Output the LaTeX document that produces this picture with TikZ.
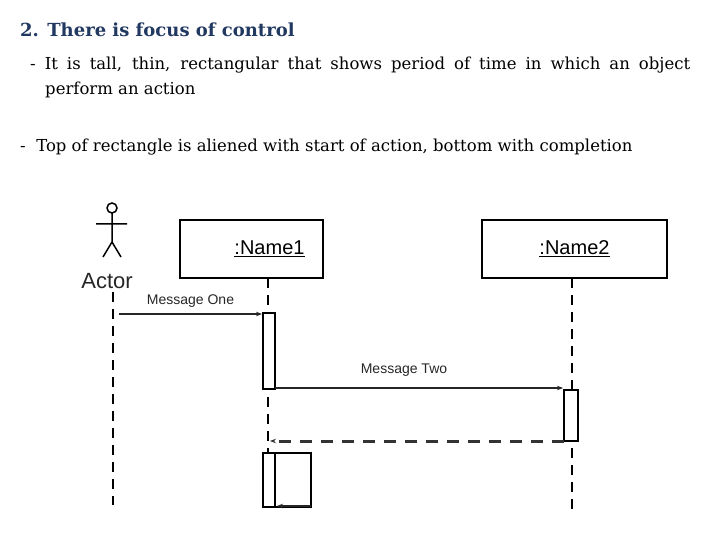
\documentclass[tikz,border=0pt]{standalone}
\usepackage{fontspec}
\setmainfont{DejaVu Serif}
\newfontfamily\diagfont{Liberation Sans}
\usetikzlibrary{arrows.meta}
\definecolor{titleblue}{RGB}{33,56,96}
\tikzset{
  lifeline/.style={line width=1.5pt,dash pattern=on 10pt off 7pt},
  objbox/.style={draw,line width=1.5pt,minimum width=#1,minimum height=58pt,inner sep=0pt,font=\diagfont\fontsize{20}{20}\selectfont},
  activation/.style={draw,line width=1.5pt,fill=white},
  msg/.style={line width=1.5pt,gray!30!black,-{Stealth[length=6pt]}},
  msglabel/.style={font=\diagfont\fontsize{14}{14}\selectfont,gray!30!black},
  bodytext/.style={anchor=west,inner sep=0pt,font=\fontsize{16.5}{16.5}\selectfont}
}
\begin{document}
\begin{tikzpicture}[x=1pt,y=-1pt]
        \useasboundingbox (0,0) rectangle (720,540);
        % Texte
        \node[anchor=west,inner sep=0pt,font=\bfseries\fontsize{18}{18}\selectfont,text=titleblue] (title) at (20,30) {2. There is focus of control};
        \node[bodytext] (lineA) at (30,65) {\makebox[660pt][s]{- It is tall, thin, rectangular that shows period of time in which an object}};
        \node[bodytext] (lineB) at (45,90) {perform an action};
        \node[bodytext] (lineC) at (20,147) {- \ Top of rectangle is aliened with start of action, bottom with completion};
        % Attore
        \draw[line width=1.5pt] (112,208) circle (5);
        \draw[line width=1.5pt] (96,224) -- (127,224) (112,213) -- (112,242) (103,257) -- (112,242) -- (121,257);
        \node[font=\diagfont\fontsize{22}{22}\selectfont,text=black!85] (actor) at (107,281) {Actor};
        % Oggetti
        \node[objbox=143pt] (name1) at (251.5,249) {\hspace*{36pt}\underline{:Name1}};
        \node[objbox=185pt] (name2) at (574.5,249) {\underline{:Name2}};
        % Linee di vita
        \draw[lifeline] (113,292) -- (113,505);
        \draw[lifeline] (268,278) -- (268,453);
        \draw[lifeline] (572,278) -- (572,515);
        % Attivazioni
        \draw[activation] (263,313) rectangle (275,389);
        \draw[activation] (564,390) rectangle (578,441);
        \draw[activation] (263,453) rectangle (311,507);
        \draw[line width=1.5pt] (275,453) -- (275,507);
        % Messaggi
        \coordinate (m1s) at (119,314);
        \coordinate (m1e) at (262,314);
        \draw[msg] (m1s) -- (m1e) node[msglabel,midway,above=3pt] {Message One};
        \coordinate (m2s) at (275,388);
        \coordinate (m2e) at (563,388);
        \draw[msg] (m2s) -- (m2e) node[msglabel,midway,above=8pt,xshift=-15pt] {Message Two};
        \coordinate (r1s) at (564,441);
        \coordinate (r1e) at (270,441);
        \draw[msg,line width=3pt,dash pattern=on 12pt off 9pt,black!80] (r1s) -- (r1e);
        \coordinate (s1s) at (311,506);
        \coordinate (s1e) at (277,506);
        \draw[msg] (s1s) -- (s1e);
\end{tikzpicture}
\end{document}
